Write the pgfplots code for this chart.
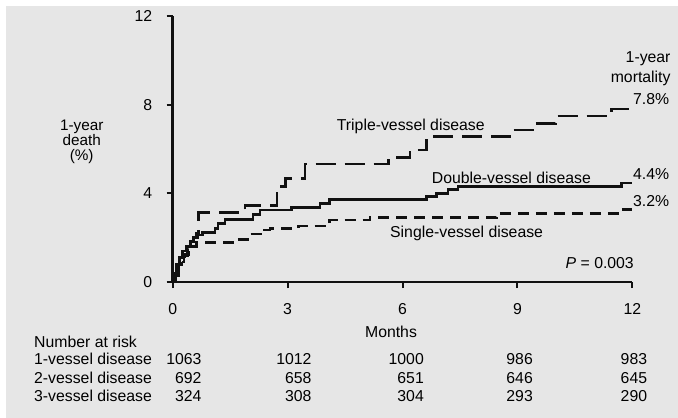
\documentclass[border=0pt]{standalone}
\usepackage{pgfplots}
\pgfplotsset{compat=1.18}
\usepackage{fontspec}
\setmainfont{Liberation Sans}
\definecolor{bg}{HTML}{E6E6E6}
\definecolor{ink}{HTML}{111111}

\begin{document}
\begin{tikzpicture}[font=\fontsize{15.8}{18}\selectfont]
\useasboundingbox (-172.7pt,282pt) rectangle (505.3pt,-136pt);
\fill[bg] (-166.7pt,276pt) rectangle (505.3pt,-136pt);
\begin{axis}[
  at={(0pt,0pt)}, anchor=south west,
  scale only axis, width=459.6pt, height=266.1pt,
  xmin=0, xmax=12, ymin=0, ymax=12,
  axis lines=left, axis line style={-, line width=2.4pt, ink},
  xtick={0,3,6,9,12}, ytick={0,4,8,12},
  tick align=outside, major tick length=6pt,
  tick style={line width=2pt, ink},
  /pgf/number format/assume math mode=true,
  xticklabel style={anchor=base, inner sep=0pt, yshift=-26pt},
  yticklabel style={anchor=east, inner sep=0pt, xshift=-14.4pt},
  clip=false,
  every axis plot/.append style={line width=2.6pt, ink, line cap=butt, line join=miter},
]
% Triple-vessel disease
\addplot[const plot mark left, dash pattern=on 20pt off 9pt] coordinates {
(0,0) (0.08,0.3) (0.15,0.6) (0.22,0.9) (0.3,1.2) (0.38,1.5) (0.46,1.8) (0.55,2.0)
(0.62,2.2) (0.67,3.14) (1.89,3.44) (2.72,4.0) (2.8,4.3) (2.95,4.68) (3.45,5.32)
(5.63,5.62) (6.2,5.95) (6.62,6.55) (8.81,6.86) (9.4,7.16) (10.0,7.49) (11.45,7.8) (12,7.8)
};
% Double-vessel disease
\addplot[const plot mark left] coordinates {
(0,0) (0.04,0.4) (0.1,0.8) (0.18,1.1) (0.26,1.4) (0.36,1.6) (0.46,1.85) (0.56,2.0)
(0.64,2.12) (0.78,2.22) (1.1,2.42) (1.18,2.65) (1.37,2.83) (2.1,3.05) (2.28,3.25)
(3.1,3.35) (3.85,3.55) (4.1,3.73) (6.62,3.85) (6.89,4.0) (7.19,4.18) (7.45,4.3)
(11.72,4.47) (12,4.47)
};
% Single-vessel disease
\addplot[const plot mark left, dash pattern=on 11pt off 7pt] coordinates {
(0,0) (0.05,0.3) (0.1,0.5) (0.16,0.8) (0.24,1.05) (0.32,1.25) (0.42,1.45) (0.52,1.6)
(0.62,1.77) (1.63,1.93) (1.95,2.17) (2.4,2.35) (2.54,2.42) (3.28,2.53) (4.1,2.8)
(5.15,2.9) (8.45,3.1) (11.68,3.28) (12,3.28)
};
\end{axis}
\begin{scope}[x=1pt,y=-1pt,shift={(-172.7pt,282pt)}]
\begin{scope}[font=\fontsize{15.3}{18}\selectfont]
\node[anchor=base, inner sep=0pt] at (81.7,130.5) {1-year};
\node[anchor=base, inner sep=0pt] at (81.7,145.5) {death};
\node[anchor=base, inner sep=0pt] at (81.7,160.5) {(\%)};
\end{scope}
\node[anchor=base east, inner sep=0pt] at (670.7,62.5) {1-year};
\node[anchor=base east, inner sep=0pt] at (670.7,83) {mortality};
\node[anchor=base west, inner sep=0pt] at (336.7,131) {Triple-vessel disease};
\node[anchor=base west, inner sep=0pt] at (431.7,184) {Double-vessel disease};
\node[anchor=base west, inner sep=0pt] at (390,237.5) {Single-vessel disease};
\node[anchor=base west, inner sep=0pt] at (633,104.5) {7.8\%};
\node[anchor=base west, inner sep=0pt] at (633,179.5) {4.4\%};
\node[anchor=base west, inner sep=0pt] at (633,207) {3.2\%};
\node[anchor=base east, inner sep=0pt] at (634,269) {\textit{P} = 0.003};
\node[anchor=base, inner sep=0pt] at (391,337.4) {Months};
\node[anchor=base west, inner sep=0pt] at (34,347.4) {Number at risk};
\node[anchor=base west, inner sep=0pt] at (34,364) {1-vessel disease};
\node[anchor=base west, inner sep=0pt] at (34,383) {2-vessel disease};
\node[anchor=base west, inner sep=0pt] at (34,401.7) {3-vessel disease};
\foreach \x/\a/\b/\c in {201.7/1063/692/324, 311.7/1012/658/308, 424/1000/651/304, 533/986/646/293, 647.3/983/645/290}{
  \node[anchor=base east, inner sep=0pt] at (\x,364) {\a};
  \node[anchor=base east, inner sep=0pt] at (\x,383) {\b};
  \node[anchor=base east, inner sep=0pt] at (\x,401.7) {\c};
}
\end{scope}
\end{tikzpicture}
\end{document}
